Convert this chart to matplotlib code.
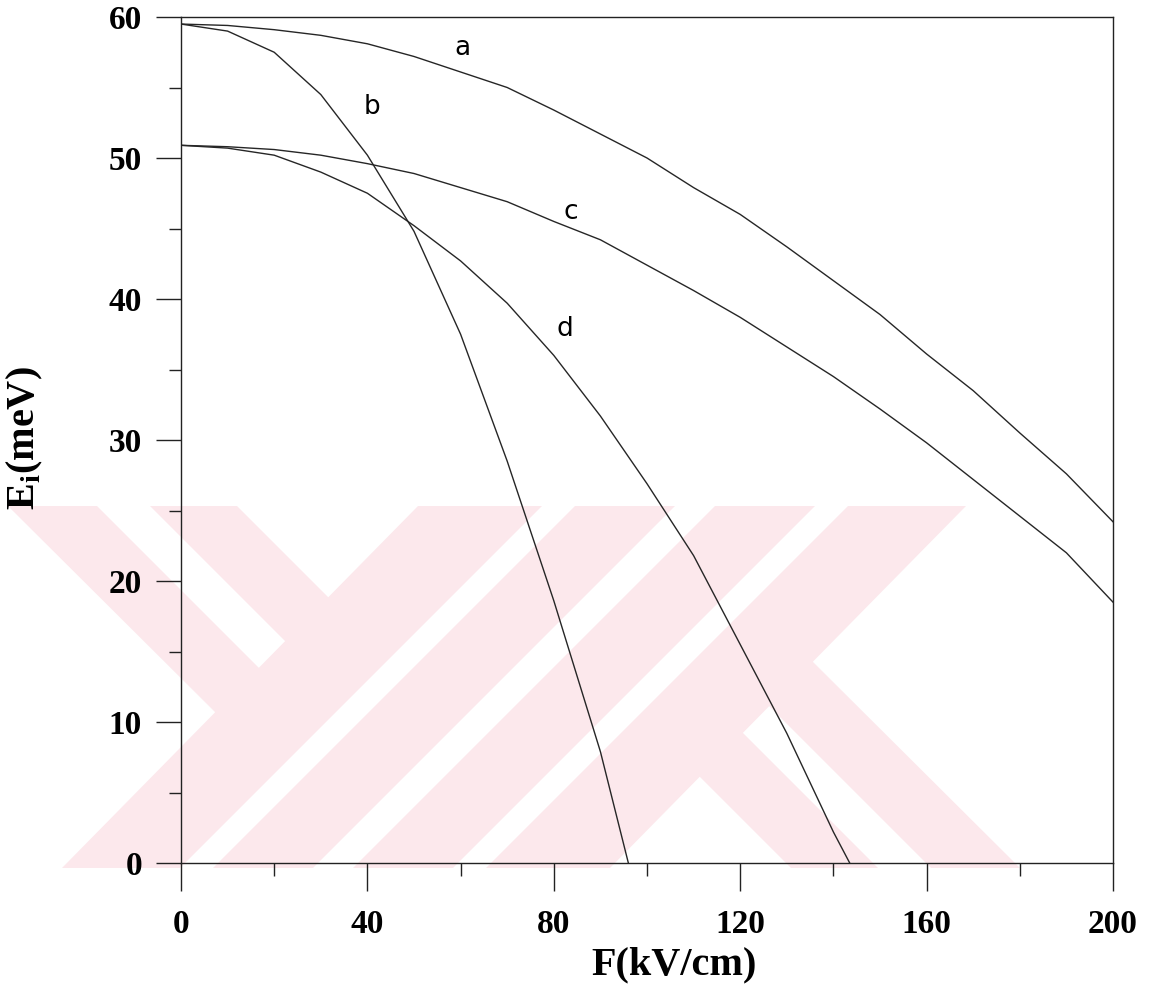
"""
Ionisation energy vs applied field, curves a-d, with the thesis watermark.
"""

import matplotlib
matplotlib.use("Agg")
import matplotlib.pyplot as plt
from matplotlib.patches import Polygon
from matplotlib.ticker import MultipleLocator

# ---------------------------------------------------------------------------
# Data: field F (kV/cm) and energy E_i (meV)
# ---------------------------------------------------------------------------

F_ac = [0, 10, 20, 30, 40, 50, 60, 70, 80, 90, 100,
        110, 120, 130, 140, 150, 160, 170, 180, 190, 200]
E_a = [59.5, 59.4, 59.1, 58.7, 58.1, 57.2, 56.1, 55.0, 53.4, 51.7, 50.0,
       47.9, 46.0, 43.7, 41.3, 38.9, 36.1, 33.5, 30.5, 27.6, 24.2]
E_c = [50.9, 50.8, 50.6, 50.2, 49.6, 48.9, 47.9, 46.9, 45.5, 44.2, 42.4,
       40.6, 38.7, 36.6, 34.5, 32.2, 29.8, 27.2, 24.6, 22.0, 18.5]

F_b = [0, 10, 20, 30, 40, 50, 60, 70, 80, 90, 96]
E_b = [59.5, 59.0, 57.5, 54.5, 50.2, 44.8, 37.5, 28.5, 18.6, 7.9, 0.0]

F_d = [0, 10, 20, 30, 40, 50, 60, 70, 80, 90, 100, 110, 120, 130, 140, 143.5]
E_d = [50.9, 50.7, 50.2, 49.0, 47.5, 45.2, 42.7, 39.7, 36.0, 31.7, 26.9,
       21.8, 15.5, 9.2, 2.2, 0.0]

curve_names = ["a", "b", "c", "d"]
name_F = [60.5, 41.0, 83.7, 82.4]
name_E = [57.8, 53.6, 46.2, 37.9]

# watermark pieces (figure pixels, y down); right half is the left half turned 180 deg
WM_LEFT = [
    [(8, 506), (97, 506), (264, 673), (220, 717)],      # upper "\" band 1
    [(150, 506), (237, 506), (332, 601), (289, 645)],   # upper "\" band 2
    [(418, 506), (542, 506), (180, 868), (62, 868)],    # long "/" band
    [(575, 506), (675, 506), (313, 868), (213, 868)],   # middle "/" band
]
WM_CENTRE = (514, 687)
WM_COLOR = "#fce8ec"

W, H = 1161, 990


def draw_watermark(fig):
    cx, cy = WM_CENTRE
    pieces = WM_LEFT + [[(2 * cx - x, 2 * cy - y) for x, y in p] for p in WM_LEFT]
    for p in pieces:
        xy = [(x / W, 1 - y / H) for x, y in p]
        fig.patches.append(Polygon(xy, closed=True, transform=fig.transFigure,
                                   facecolor=WM_COLOR, edgecolor="none", zorder=-5))


# ---------------------------------------------------------------------------
# Figure
# ---------------------------------------------------------------------------

plt.rcParams["mathtext.fontset"] = "custom"
plt.rcParams["mathtext.rm"] = "Liberation Serif:bold"
plt.rcParams["mathtext.bf"] = "Liberation Serif:bold"

fig = plt.figure(figsize=(W / 100, H / 100), dpi=100)
fig.patch.set_facecolor("white")
draw_watermark(fig)

ax = fig.add_axes([181 / W, 1 - 863 / H, 932 / W, 846 / H])
ax.set_facecolor("none")

line_kw = dict(color="#262626", linewidth=1.0)
ax.plot(F_ac, E_a, **line_kw)
ax.plot(F_b, E_b, **line_kw)
ax.plot(F_ac, E_c, **line_kw)
ax.plot(F_d, E_d, **line_kw)

for name, f, e in zip(curve_names, name_F, name_E):
    ax.text(f, e, name, fontsize=19, family="DejaVu Sans",
            ha="center", va="center", color="black")

ax.set_xlim(0, 200)
ax.set_ylim(0, 60)
ax.xaxis.set_major_locator(MultipleLocator(40))
ax.xaxis.set_minor_locator(MultipleLocator(20))
ax.yaxis.set_major_locator(MultipleLocator(10))
ax.yaxis.set_minor_locator(MultipleLocator(5))

for side in ["left", "bottom", "top", "right"]:
    ax.spines[side].set_linewidth(1.0)
    ax.spines[side].set_color("#222222")

ax.tick_params(axis="x", which="major", direction="out", length=20, width=1.0,
               pad=13, color="#222222")
ax.tick_params(axis="y", which="major", direction="out", length=18, width=1.0,
               pad=10, color="#222222")
ax.tick_params(which="minor", direction="out", length=9, width=1.0, color="#222222")

for lab in ax.get_xticklabels() + ax.get_yticklabels():
    lab.set_family("Liberation Serif")
    lab.set_fontweight("bold")
    lab.set_fontsize(24)

ax.set_xlabel("F(kV/cm)", family="Liberation Serif", fontweight="bold",
              fontsize=29, va="center")
ax.xaxis.set_label_coords(0.529, -0.121)
ax.set_ylabel(r"E$_\mathbf{i}$(meV)", family="Liberation Serif",
              fontweight="bold", fontsize=29, va="center")
ax.yaxis.set_label_coords(-0.167, 0.502)

fig.savefig("out.png", dpi=100)
